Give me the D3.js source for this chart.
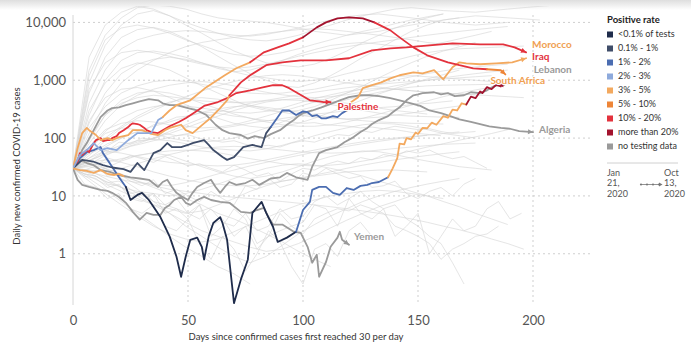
<!DOCTYPE html>
<html>
<head>
<meta charset="utf-8">
<script src="https://cdn.jsdelivr.net/npm/d3@7"></script>
<style>
  html, body { margin: 0; padding: 0; background: #fff; }
  svg { display: block; font-family: Lato, "Open Sans", sans-serif; }
</style>
</head>
<body>
<svg id="chart" width="691" height="345"></svg>
<script>
// ---- positive-rate classes ----
const rateLabels = ["<0.1% of tests", "0.1% - 1%", "1% - 2%", "2% - 3%", "3% - 5%",
                    "5% - 10%", "10% - 20%", "more than 20%", "no testing data"];
const rateColors = ["#1f2c4b", "#3f4d69", "#4b6db1", "#8eaadc", "#f3a95f",
                    "#ee8537", "#e3323d", "#a3132e", "#9a9a9a"];

const xTicks = [0, 50, 100, 150, 200];
const yTicks = [1, 10, 100, 1000, 10000];

// ---- highlighted countries: day, 7-day cases, rate class from a given day on ----
const southAfricaDays  = [0,3,6,9,12,15,19,24,28,34,37,39,42,45,51,58,66,71,77,83,89,94,100,106,110,115,120,126,131,138,142,148,154,163,168,174,180,186,188];
const southAfricaCases = [30,51,62,82,62,67,62,92,122,122,205,230,300,370,450,760,1220,1610,2040,3040,3700,4350,5510,8200,10000,11700,12200,11700,10000,7280,5510,3700,2700,2040,1820,1610,1550,1490,1260];
const southAfricaRate  = [[0,3],[42,4],[83,6],[102,7],[133,6],[184,5]];

const iraqDays  = [0,2,4,6,7,10,12,15,17,20,24,26,30,34,37,40,42,47,49,52,57,60,63,67,68,73,77,84,91,99,110,120,130,138,145,155,165,177,187,192,197];
const iraqCases = [30,67,122,150,137,113,92,100,92,104,113,137,137,118,113,137,150,170,137,122,180,225,300,450,550,920,1220,1820,2040,2210,2210,2400,3290,3560,3700,4010,4350,4180,4180,3700,3040];
const iraqRate  = [[0,4],[72,6]];

const moroccoDays  = [0,4,9,13,17,22,25,28,31,35,38,41,43,47,50,52,57,59,61,65,67,70,74,78,82,84,86,89,91,94,97,100,102,104,106,108,110,113,115,117,119,121,124,126,130,134,138,142,148,152,157,160,161,163,165,168,171,177,184,191,197];
const moroccoCases = [30,42,39,34,31,29,26,37,28,55,62,82,70,70,76,82,92,76,62,47,42,47,70,76,70,122,155,230,300,300,250,290,280,240,250,220,220,240,230,270,300,420,510,730,820,920,1080,1220,1370,1320,1490,1130,1040,1320,1680,2040,1960,1890,1960,2040,2400];
const moroccoRate  = [[0,1],[88,2],[121,4]];

const palestineDays  = [0,2,3,4,6,7,9,10,12,13,15,16,17,19,20,22,24,25,26,28,29,31,32,34,37,39,42,46,49,53,57,63,67,71,77,83,87,91,94,97,100,103,107,109,112];
const palestineCases = [30,39,55,51,62,57,82,92,100,89,92,92,100,108,122,137,155,170,180,175,170,150,137,127,122,137,160,190,220,280,360,420,490,600,670,760,820,820,730,620,530,450,430,420,420];
const palestineRate  = [[0,6]];

const tunisiaDays  = [0,3,6,9,12,13,15,17,20,23,25,28,30,33,38,42,45,47,49,51,54,56,57,59,61,64,65,67,70,73,76,78,82,84,87,89,93,97,100,103,104,107,110,113,116,119,122,125,128,130,133,137,139,141,142,144,145,147,149,150,152,154,156,158,161,163,165,167,169,171,173,175,177,178,180,182,184,186,187];
const tunisiaCases = [30,45,57,62,70,55,42,32,21,14.3,8.5,10.4,11.3,8.5,4.3,2.0,0.89,0.40,0.89,1.74,1.9,1.32,0.79,2.0,3.4,4.3,3.4,1.74,0.14,0.36,0.79,5.1,7.9,5.1,2.9,1.6,1.9,2.4,5.7,7.9,12.7,14.3,14.3,11.3,10.4,13.7,12.7,14.9,15.5,16.7,17.4,21,30,45,80,78,100,95,125,118,150,148,185,170,240,225,310,300,400,380,520,490,640,600,760,700,830,780,950];
const tunisiaRate  = [[0,2],[24,0],[100,2],[139,4],[173,7]];

const algeriaDays  = [0,2,4,6,9,12,15,17,20,23,26,29,33,37,39,42,45,50,54,58,62,65,68,73,76,79,83,86,90,93,96,98,100,104,108,112,116,120,125,129,133,138,142,147,151,155,160,164,168,173,177,181,186,190,194,200];
const algeriaCases = [30,42,62,82,137,230,300,330,340,370,400,430,470,450,400,370,370,330,300,250,170,137,122,113,98,108,100,117,137,170,205,240,270,300,340,390,450,510,550,550,530,490,450,400,360,300,270,240,210,190,175,160,150,145,132,127];
const algeriaRate  = [[0,8]];

const lebanonDays  = [0,3,6,9,12,16,20,25,29,33,37,39,41,43,45,47,50,52,54,57,60,62,64,66,68,71,75,78,81,86,90,93,97,102,104,107,110,115,118,122,125,128,130,133,137,139,142,145,148,150,152,157,160,163,166,170,173,177,180,183,186,189];
const lebanonCases = [30,42,37,34,28,26,23,21,20,19,14.3,17.4,19,14.3,11.3,10,8.5,11.3,14.3,16.7,19,14.3,11.3,14.3,17.4,15.5,16.7,19,15.5,20,21,25,21,19,32,55,62,70,85,104,127,150,175,205,240,280,340,450,550,570,600,620,570,600,530,550,620,600,670,790,850,890];
const lebanonRate  = [[0,8]];

const yemenDays  = [0,2,4,7,12,15,17,20,23,26,29,32,35,38,40,42,44,47,49,51,54,57,60,64,68,73,77,80,83,85,87,91,96,99,102,104,106,107,110,112,115,116,117,120];
const yemenCases = [30,19,15.5,14.3,12.7,12.2,11.3,9.6,7.6,5.3,3.9,5.1,4.7,4.7,6.2,7.0,8.5,9.6,7.6,7.0,8.5,9.6,8.5,7.9,7.6,5.3,5.1,5.7,6.2,4.3,3.2,3.2,2.4,2.3,1.32,0.70,0.96,0.40,0.72,1.32,1.9,2.4,1.74,1.43];
const yemenRate  = [[0,8]];

const shortRunDays  = [0,3,6,9,12,15,18,20,22];
const shortRunCases = [30,28,27,25,28,24,23,24,22];
const shortRunRate  = [[0,4]];

// ---- other countries (grey context lines), sampled every 7 or 5 days from day 0 ----
const contextEvery7 = [
  [30,900,4000,9000,14000,16000,13000,10000,8000,6500,5500,5000,4800,5200,6000,7500,9000,11000,13000,15000,17000,18000,17000,16000,15500,15000,16000,17000,18000,19000,20000],
  [30,600,2500,5500,7500,8200,7000,5200,3800,2600,1800,1300,1000,800,750,900,1200,1700,2500,3500,5000,7000,9000,11000,12000,13000,12500,12000,11500,11000],
  [30,400,1500,3500,5000,6000,6800,7200,7000,6500,6000,5800,6200,7000,8000,9500,11000,12500,13500,14000,13000,12000,11000,10000,9500,9000,9500,10000],
  [30,250,1000,2200,3000,3200,2900,2500,2000,1600,1400,1500,1800,2200,2800,3400,4000,4300,4500,4200,3900,3800,4000,4500,5200,6000,7000],
  [30,1500,6000,12000,18000,20000,19000,17000,14000,12000,11000,10500,10000,9000,8000,7000,6500,6000,6500,7000,8000,9000,10000,11000,12000],
  [30,180,600,1300,1900,2300,2500,2300,2000,1700,1400,1200,1100,1000,950,1000,1100,1300,1500,1800,2200,2600,3000,3300,3500,3600,3700,3800,3900],
  [30,300,900,1600,2000,1800,1500,1100,800,600,450,350,300,280,300,350,450,600,800,1100,1500,2000,2600,3200,3800,4500],
  [30,120,400,900,1500,2200,3000,3800,4500,5000,5500,6000,6500,7000,7500,7800,7500,7000,6500,6000,5500,5000,4500,4200,4000],
  [30,2500,9000,15000,19000,17000,13000,9000,6500,4500,3200,2500,2000,1800,1700,1900,2400,3200,4500,6000,8000,10000,12000,14000],
  [30,1200,5000,8000,9000,8000,6500,5000,4000,3200,2800,2600,2700,3000,3500,4200,5000,6000,7000,8000,9500,11000,12500,14000],
  [30,700,2000,3000,3300,3000,2600,2200,1900,1700,1600,1700,1900,2200,2600,3000,3400,3800,4200,4600,5000,5500,6000,6500,7000,7500,8000,8500],
  [30,200,500,700,750,650,500,380,280,220,180,160,150,160,180,220,280,360,460,580,720,880,1050,1250,1500],
  [30,150,350,600,800,950,1000,950,850,750,650,600,580,600,650,700,800,900,1000,1100,1150,1200,1150,1100,1050,1000,950,900,850],
  [30,100,250,400,500,550,520,480,440,420,410,420,450,500,560,620,680,740,800,850,900,950,1000,1050,1100,1150,1200],
  [30,80,200,380,550,700,820,900,950,900,800,700,620,560,520,500,520,560,620,700,800,900,1000,1100,1200,1300,1400,1500],
  [30,60,130,220,300,350,380,360,330,300,280,270,290,330,400,480,560,640,700,720,700,660,620,600,580,560],
  [30,50,90,150,220,300,400,520,650,800,950,1100,1200,1250,1200,1100,1000,900,820,760,700,660,620,600,580,560,540,520,500],
  [30,70,140,180,200,190,170,160,150,155,170,200,240,290,350,420,500,600,720,850,1000,1150,1300,1450,1600,1700,1800,1900],
  [30,45,70,100,130,160,190,230,280,320,350,360,340,310,280,250,230,210,200,190,185,180,178,175],
  [30,55,100,160,240,330,420,480,500,470,420,370,320,280,250,230,220,215,220,230,250,270,300,330,360],
  [30,40,55,70,85,100,120,150,190,240,300,360,420,460,480,470,440,400,360,330,300,280,260],
  [30,35,50,65,80,100,130,170,220,280,340,400,440,460,450,420,380,340,300,270,250,240,235,230,228],
  [30,65,120,150,140,120,100,90,85,90,100,120,150,190,240,300,380,460,540,620,700,760,800,820,830,840,850],
  [30,90,250,450,600,650,600,500,400,320,260,220,190,170,160,160,170,190,220,260,310,370,440,520,600,680,760,850,950],
  [30,40,60,75,90,95,90,80,70,65,62,60,65,75,90,110,130,150,170,180,175,160,140,120,110,100],
  [30,28,26,30,36,44,52,60,66,70,72,70,66,62,58,56,55,56,58,62,66,70,74,78,80,82],
  [30,33,38,44,50,56,60,62,60,56,50,44,40,36,34,33,34,36,40,45,52,60,70,80,92,105,120,140],
  [30,25,30,40,50,55,50,40,32,26,22,20,22,26,32,40,48,55,60,58,52,45,40,36,32,30,28],
  [30,22,16,12,9,7,6,5,5.5,7,9,12,15,18,20,22,24,26,27,28,28,27,26],
  [30,28,20,14,10,7,5,3.5,2.5,2,1.6,1.3,1.1,1.2,1.5,2,2.8,3.8,5,6.5,8,10],
  [30,35,30,24,18,14,11,9,7,5,4,3,2.2,1.6,1.1,0.8,0.6],
  [30,20,13,8,5,3.2,2,1.3,0.9,0.6,0.45,0.3],
  [30,32,28,22,18,15,13,12,11,10,9.5,9,8.5,8,7.5,7,6.5,6,5.5,5,4.5,4,3.5,3,2.6,2.2,1.8,1.5,1.2],
  [30,38,42,38,32,26,22,19,17,16,15,15,16,18,20,23,26,30,34,38,42,46,50,54,58],
  [30,45,60,55,48,42,38,36,34,33,34,37,42,48,55,62,70,78,86,94,100,106,112],
  [30,26,22,19,17,16,15,17,20,24,28,33,38,44,50,57,64,72,80,88,96,104,112,120,128],
  [30,18,11,7,4.5,3,2.2,1.8,1.6,1.8,2.4,3.2,4.2,5.5,7,8.5,10,11,12,12.5,12,11,10,9],
  [30,40,30,20,13,8,5,3,2,1.3,0.9,0.7,0.9,1.4,2.2,3.2,4.5,6,8,10,12,14,16,18,20],
  [30,25,18,14,12,11,10,11,13,16,20,25,30,34,36,34,30,26,22,18,15,12,10,8,6.5,5,4,3.2]
];
const contextEvery5 = [
  [30,22,20,14,16,9,8,11,5,6,4,7,2,3,6,4,1.5,2,5,3,3.5,7,6,3,9,5,4,6,2,3,5,1,2,4,2.5,3,6,8,4,5],
  [30,28,33,22,24,18,15,19,11,13,10,8,12,9,7,15,13,20,14,16,25,22,30,24,20,22,14,15,18,11,9,12,14,10,16,20],
  [30,16,14,9,11,6,5,7,3,2.5,4,1.5,0.8,2,1.2,0.5,1,2.5,1.6,0.6,0.3,1.2,1.5,0.9,2.5,3.5,2],
  [30,38,34,45,40,50,44,38,48,40,33,36,30,26,34,28,22,25,18,24,30,28,35,40,36,46,42,52,48,60,55,62,50,44,48,38,30],
  [30,50,65,60,85,80,100,95,120,110,115,98,92,85,90,78,72,75,70,82,90,85,100,115,110,135,125,145,160,150,140,145,130,120,125,130],
  [30,24,22,16,15,11,12,8,7,9,5,4,6,3.5,3,5,2.5,3,6,4,4.5,8,10,7,9,12,8,6,7,4,3,2,1.5,0.7,0.3],
  [30,50,60,80,95,120,130,170,190,230,240,270,280,260,240,230,210,200,205,190,180,185,170,165,160,150,155,145,140,130,120,115,110],
  [30,40,45,55,60,72,80,90,98,110,120,130,140,150,160,175,190,200,215,230,245,260,270,285,300,310,330,340,350,370,390,400,420,440],
  [30,24,22,17,18,13,10,11,7,6,5,7,3,4,2,3,1.2,2,2.5,3,2.2,4,5,6,5.5,7,6,5,3,2.5,2,1.5,0.8,1.2,1.5,2,2.2,3]
];

const highlights = [
  { name: "Yemen",        days: yemenDays,        cases: yemenCases,        rate: yemenRate },
  { name: "Algeria",      days: algeriaDays,      cases: algeriaCases,      rate: algeriaRate },
  { name: "Lebanon",      days: lebanonDays,      cases: lebanonCases,      rate: lebanonRate },
  { name: "Tunisia",      days: tunisiaDays,      cases: tunisiaCases,      rate: tunisiaRate },
  { name: "Palestine",    days: palestineDays,    cases: palestineCases,    rate: palestineRate },
  { name: "Morocco",      days: moroccoDays,      cases: moroccoCases,      rate: moroccoRate },
  { name: "Iraq",         days: iraqDays,         cases: iraqCases,         rate: iraqRate },
  { name: "South Africa", days: southAfricaDays,  cases: southAfricaCases,  rate: southAfricaRate },
  { name: "stub",         days: shortRunDays,     cases: shortRunCases,     rate: shortRunRate }
];

// ---- layout ----
const svg = d3.select("#chart");
const x = d3.scaleLinear().domain([0, 225]).range([73, 590.5]);
const y = d3.scaleLog().domain([0.13, 20000]).range([305, 5]);

// faint shading along the top edge
const defs = svg.append("defs");
const grad = defs.append("linearGradient").attr("id", "topShade")
  .attr("x1", 0).attr("x2", 0).attr("y1", 0).attr("y2", 1);
grad.append("stop").attr("offset", "0%").attr("stop-color", "#dedede");
grad.append("stop").attr("offset", "100%").attr("stop-color", "#ffffff");
svg.append("rect").attr("x", 0).attr("y", 0).attr("width", 691).attr("height", 10)
  .attr("fill", "url(#topShade)");

defs.append("clipPath").attr("id", "plotClip")
  .append("rect").attr("x", 73).attr("y", 6).attr("width", 527).attr("height", 301);

// grid
const grid = svg.append("g");
grid.selectAll("line.h").data(yTicks).join("line")
  .attr("x1", 73).attr("x2", 590).attr("y1", d => y(d)).attr("y2", d => y(d))
  .attr("stroke", "#cfcfcf").attr("stroke-width", 1).attr("stroke-dasharray", "2,3");
grid.selectAll("line.v").data(xTicks.filter(d => d > 0)).join("line")
  .attr("y1", 15).attr("y2", 305).attr("x1", d => x(d)).attr("x2", d => x(d))
  .attr("stroke", "#cfcfcf").attr("stroke-width", 1).attr("stroke-dasharray", "2,3");
svg.append("line").attr("x1", x(0)).attr("x2", x(0)).attr("y1", 15).attr("y2", 305)
  .attr("stroke", "#d6d6d6").attr("stroke-width", 1);

// axes (labels only, drawn through d3 axes)
const yAxis = svg.append("g").attr("transform", `translate(${x(0) - 4},0)`)
  .call(d3.axisLeft(y).tickValues(yTicks).tickFormat(d3.format(",")).tickSize(0));
yAxis.select(".domain").remove();
yAxis.selectAll("text").attr("font-size", 13).attr("fill", "#555").attr("font-family", "Lato");

const xAxis = svg.append("g").attr("transform", "translate(0,313)")
  .call(d3.axisBottom(x).tickValues(xTicks).tickFormat(d3.format("d")).tickSize(0));
xAxis.select(".domain").remove();
xAxis.selectAll("text").attr("font-size", 13).attr("fill", "#555").attr("font-family", "Lato");

svg.append("text").attr("x", 296).attr("y", 340).attr("text-anchor", "middle")
  .attr("font-size", 9.5).attr("fill", "#333").text("Days since confirmed cases first reached 30 per day");
svg.append("text").attr("transform", "translate(20,166) rotate(-90)").attr("text-anchor", "middle")
  .attr("font-size", 9.5).attr("fill", "#333").text("Daily new confirmed COVID-19 cases");

// context lines
const plot = svg.append("g").attr("clip-path", "url(#plotClip)");
const line = d3.line().x(p => x(p[0])).y(p => y(p[1]));
const contextData = [
  ...contextEvery7.map(v => v.map((c, i) => [i * 7, c])),
  ...contextEvery5.map(v => v.map((c, i) => [i * 5, c]))
];
plot.append("g").selectAll("path").data(contextData).join("path")
  .attr("d", line).attr("fill", "none")
  .attr("stroke", "#d4d4d4").attr("stroke-width", 0.75).attr("stroke-opacity", 0.8)
  .attr("stroke-linejoin", "round");

// highlighted lines, split into runs of the same rate class
function rateAt(rate, day) {
  let c = rate[0][1];
  for (const [start, cls] of rate) if (day >= start) c = cls;
  return c;
}
const hl = plot.append("g");
const ends = [];
highlights.forEach(s => {
  const pts = s.days.map((d, i) => [d, s.cases[i]]);
  const runs = [];
  let cur = null;
  for (let i = 1; i < pts.length; i++) {
    const c = rateAt(s.rate, pts[i][0]);
    if (!cur || cur.cls !== c) { cur = { cls: c, pts: [pts[i - 1]] }; runs.push(cur); }
    cur.pts.push(pts[i]);
  }
  hl.append("g").selectAll("path").data(runs).join("path")
    .attr("d", r => line(r.pts)).attr("fill", "none")
    .attr("stroke", r => rateColors[r.cls]).attr("stroke-width", 1.8)
    .attr("stroke-linejoin", "round").attr("stroke-linecap", "round");
  if (s.name !== "stub") {
    const a = pts[pts.length - 2], b = pts[pts.length - 1];
    ends.push({ name: s.name, a, b, cls: rateAt(s.rate, b[0]) });
  }
});

// arrowheads at the last point of each highlighted line
hl.append("g").selectAll("path").data(ends).join("path")
  .attr("d", "M0,0 L-5,-2.6 L-5,2.6 Z")
  .attr("fill", e => rateColors[e.cls])
  .attr("transform", e => {
    const x0 = x(e.a[0]), y0 = y(e.a[1]), x1 = x(e.b[0]), y1 = y(e.b[1]);
    const ang = Math.atan2(y1 - y0, x1 - x0) * 180 / Math.PI;
    return `translate(${x1},${y1}) rotate(${ang})`;
  });

// country names next to the line ends
const nameStyle = {
  "Morocco":      { dx: 6,   dy: -13, color: "#f0a052" },
  "Iraq":         { dx: 6,   dy: 5,   color: "#e3323d" },
  "Lebanon":      { dx: 26,  dy: -13, color: "#9a9a9a" },
  "South Africa": { dx: -15, dy: 7,   color: "#f0a052" },
  "Palestine":    { dx: 7,   dy: 5,   color: "#e3323d" },
  "Algeria":      { dx: 6,   dy: -2,  color: "#9a9a9a" },
  "Yemen":        { dx: 5,   dy: -7,  color: "#9a9a9a" }
};
svg.append("g").selectAll("text").data(ends.filter(e => nameStyle[e.name])).join("text")
  .attr("x", e => x(e.b[0]) + nameStyle[e.name].dx)
  .attr("y", e => y(e.b[1]) + nameStyle[e.name].dy)
  .attr("dominant-baseline", "middle")
  .attr("font-size", 10).attr("font-weight", 700)
  .attr("fill", e => nameStyle[e.name].color)
  .attr("stroke", "#fff").attr("stroke-width", 2).attr("paint-order", "stroke")
  .text(e => e.name);

// legend
const lg = svg.append("g").attr("transform", "translate(607,0)");
lg.append("text").attr("x", 0).attr("y", 21).attr("dominant-baseline", "middle")
  .attr("font-size", 9.5).attr("font-weight", 700).attr("fill", "#222").text("Positive rate");
const items = lg.selectAll("g.item").data(rateLabels).join("g")
  .attr("transform", (d, i) => `translate(0,${34.5 + i * 14})`);
items.append("rect").attr("x", 0).attr("y", -3).attr("width", 6).attr("height", 6)
  .attr("fill", (d, i) => rateColors[i]);
items.append("text").attr("x", 11).attr("y", 0).attr("dominant-baseline", "middle")
  .attr("font-size", 9).attr("fill", "#333").text(d => d);
lg.append("line").attr("x1", 0).attr("x2", 71).attr("y1", 163).attr("y2", 163)
  .attr("stroke", "#d0d0d0");
const dateLines = [["Jan", "21,", "2020"], ["Oct", "13,", "2020"]];
dateLines.forEach((lines, k) => {
  lines.forEach((t, j) => {
    lg.append("text").attr("x", k === 0 ? 0 : 57).attr("y", 173.5 + j * 10.5)
      .attr("dominant-baseline", "middle").attr("font-size", 9).attr("fill", "#555").text(t);
  });
});
lg.append("line").attr("x1", 34).attr("x2", 54).attr("y1", 184.5).attr("y2", 184.5)
  .attr("stroke", "#777").attr("stroke-width", 0.8);
lg.selectAll("circle.dot").data([34, 40, 46, 52]).join("circle")
  .attr("cx", d => d).attr("cy", 184.5).attr("r", 1.1).attr("fill", "#777");
lg.append("path").attr("d", "M55.5,184.5 L52,182.6 L52,186.4 Z").attr("fill", "#777");
</script>
</body>
</html>
